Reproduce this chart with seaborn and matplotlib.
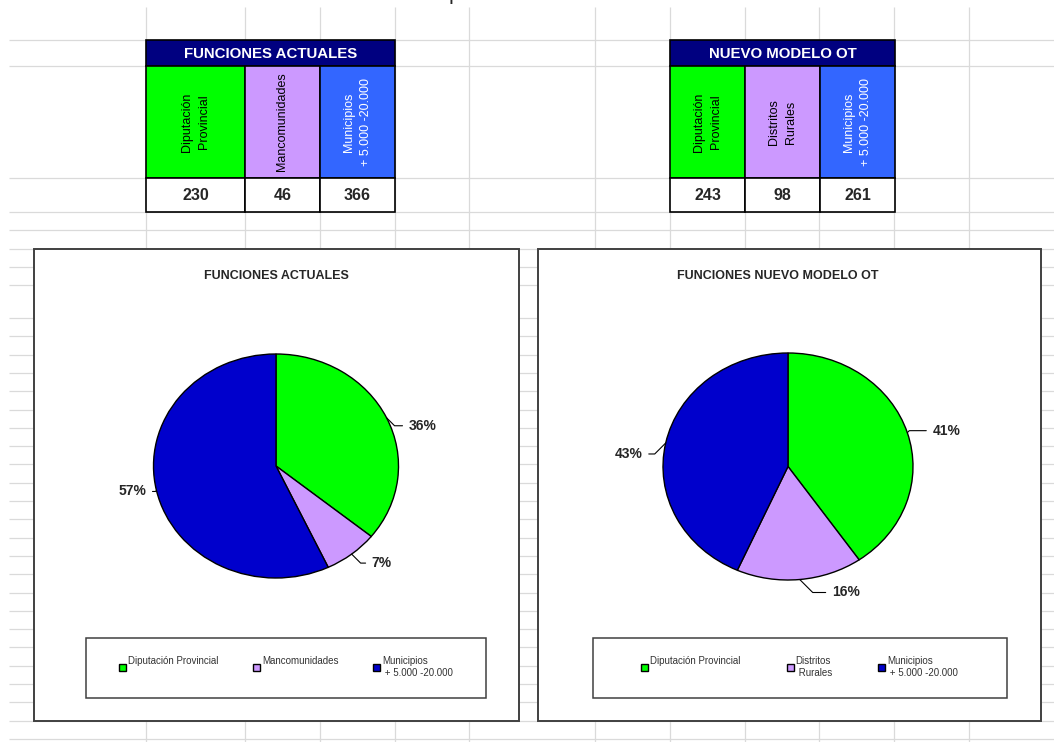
import numpy as np
import matplotlib
matplotlib.use("Agg")
import matplotlib.pyplot as plt
from matplotlib.patches import Rectangle
import seaborn as sns

# --- Data ---
table_left_title = "FUNCIONES ACTUALES"
table_left_heads = ["Diputación\nProvincial", "Mancomunidades", "Municipios\n+ 5.000 -20.000"]
table_left_values = [230, 46, 366]

table_right_title = "NUEVO MODELO OT"
table_right_heads = ["Diputación\nProvincial", "Distritos\nRurales", "Municipios\n+ 5.000 -20.000"]
table_right_values = [243, 98, 261]

pie_left_title = "FUNCIONES ACTUALES"
pie_left_pct = ["36%", "7%", "57%"]
legend_left = ["Diputación Provincial\n", "Mancomunidades\n", "Municipios\n + 5.000 -20.000"]

pie_right_title = "FUNCIONES NUEVO MODELO OT"
pie_right_pct = ["41%", "16%", "43%"]
legend_right = ["Diputación Provincial\n", "Distritos\n Rurales", "Municipios\n + 5.000 -20.000"]

cell_colors = ["#00FF00", "#CC99FF", "#3366FF"]
head_text_colors = ["black", "black", "white"]
pie_colors = ["#00FF00", "#CC99FF", "#0000CC"]

# --- Style ---
sns.set_style("white")
plt.rcParams["font.family"] = ["Liberation Sans", "DejaVu Sans"]
NARROW = ["Liberation Sans Narrow", "Liberation Sans", "DejaVu Sans"]

W, H = 1054, 742
fig = plt.figure(figsize=(W / 100, H / 100), dpi=100)
fig.patch.set_facecolor("white")

# background axes in pixel units (spreadsheet grid, tables, chart frames)
bg = fig.add_axes([0, 0, 1, 1])
bg.set_xlim(0, W)
bg.set_ylim(H, 0)
bg.axis("off")

rows = [40, 66, 178, 212, 230, 249, 267, 285] + list(318 + 18.3 * np.arange(24))
cols = [146, 245, 320, 395, 469, 595, 670, 745, 819, 894, 969]
bg.hlines(rows, 9, W, color="#DADADA", lw=0.9, zorder=0)
bg.vlines(cols, 7, H, color="#DADADA", lw=0.9, zorder=0)

# partially visible text cut at the top edge (as in the screenshot)
bg.text(449, -1, "p", fontsize=16, ha="left", va="baseline", clip_on=False)


def draw_table(edges, title, heads, values):
    x0, x1 = edges[0], edges[-1]
    bg.add_patch(Rectangle((x0, 40), x1 - x0, 26, fc="#000080", ec="black", lw=1.2, zorder=2))
    bg.text((x0 + x1) / 2, 53.5, title, color="white", fontsize=10.8, fontweight="bold",
            ha="center", va="center", zorder=3)
    for i in range(3):
        xa, xb = edges[i], edges[i + 1]
        bg.add_patch(Rectangle((xa, 66), xb - xa, 112, fc=cell_colors[i], ec="black", lw=1.2, zorder=2))
        bg.text((xa + xb) / 2, 122, heads[i], rotation=90, color=head_text_colors[i],
                fontsize=9, family=NARROW, ha="center", va="center",
                multialignment="center", linespacing=1.45, zorder=3)
        bg.add_patch(Rectangle((xa, 178), xb - xa, 34, fc="white", ec="black", lw=1.2, zorder=2))
        bg.text((xa + xb) / 2, 195.5, str(values[i]), fontsize=11.5, fontweight="bold",
                ha="center", va="center", zorder=3)


draw_table([146, 245, 320, 395], table_left_title, table_left_heads, table_left_values)
draw_table([670, 745, 820, 895], table_right_title, table_right_heads, table_right_values)

# chart frames
bg.add_patch(Rectangle((34, 249), 485, 472, fc="white", ec="#404040", lw=1.4, zorder=2))
bg.add_patch(Rectangle((538, 249), 503, 472, fc="white", ec="#404040", lw=1.4, zorder=2))
bg.add_patch(Rectangle((86, 638), 400, 60, fc="white", ec="#404040", lw=1.1, zorder=2))
bg.add_patch(Rectangle((593, 638), 414, 60, fc="white", ec="#404040", lw=1.1, zorder=2))
bg.text(276, 276, pie_left_title, fontsize=9, fontweight="bold", ha="center", va="center", zorder=3)
bg.text(778, 276, pie_right_title, fontsize=9, fontweight="bold", ha="center", va="center", zorder=3)


def draw_pie(cx, cy, rx, ry, values, pct, offsets, leg_labels, leg_anchor, colspace):
    ax = fig.add_axes([(cx - rx) / W, 1 - (cy + ry) / H, 2 * rx / W, 2 * ry / H])
    ax.set_zorder(3)
    wedges, _ = ax.pie(values, colors=pie_colors, startangle=90, counterclock=False,
                       wedgeprops=dict(edgecolor="black", linewidth=1.0))
    ax.set_aspect("auto")
    ax.set_xlim(-1, 1)
    ax.set_ylim(-1, 1)

    for w, lab, (dx, dy) in zip(wedges, pct, offsets):
        th = np.deg2rad((w.theta1 + w.theta2) / 2)
        ang_b = 45 if dx * dy > 0 else -45
        ax.annotate(lab, xy=(np.cos(th), np.sin(th)), xytext=(dx, dy), textcoords="offset pixels",
                    ha="left" if dx > 0 else "right", va="center",
                    fontsize=10, fontweight="bold", annotation_clip=False,
                    arrowprops=dict(arrowstyle="-", color="black", lw=0.8, shrinkA=2, shrinkB=0,
                                    relpos=(0 if dx > 0 else 1, 0.5),
                                    connectionstyle=f"angle,angleA=0,angleB={ang_b}"))

    leg = ax.legend(wedges, leg_labels, loc="upper left", bbox_to_anchor=leg_anchor,
                    bbox_transform=bg.transData, ncol=3, frameon=False, fontsize=7,
                    handlelength=0.7, handleheight=0.7, handletextpad=0.2,
                    columnspacing=colspace, borderpad=0, borderaxespad=0, labelcolor="#333333")
    for t in leg.get_texts():
        t.set_linespacing(1.25)


draw_pie(276, 466, 122.5, 112, table_left_values, pie_left_pct,
         [(22, -8), (20, -9), (-10, -1)], legend_left, (119, 656), 3.6)
draw_pie(788, 466.5, 125, 113.5, table_right_values, pie_right_pct,
         [(25, 2), (32, -13), (-23, -11)], legend_right, (641, 656), 4.8)

plt.savefig("out.png", dpi=100)
